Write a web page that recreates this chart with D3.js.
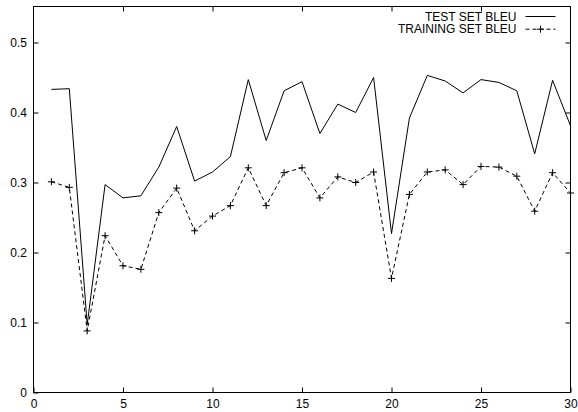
<!DOCTYPE html>
<html>
<head>
<meta charset="utf-8">
<script src="https://cdn.jsdelivr.net/npm/d3@7"></script>
<style>
  body { margin: 0; background: #fff; }
  text { font-family: "Liberation Sans", Arial, Helvetica, sans-serif; font-size: 12px; fill: #000; }
</style>
</head>
<body>
<svg id="chart" width="578" height="412"></svg>
<script>
// iteration numbers
var iterations = d3.range(1, 31);

// test set BLEU (solid line)
var testBleu = [0.433, 0.434, 0.097, 0.297, 0.278, 0.281, 0.322, 0.380, 0.302, 0.315,
                0.337, 0.447, 0.360, 0.431, 0.444, 0.370, 0.412, 0.400, 0.450, 0.227,
                0.392, 0.453, 0.445, 0.428, 0.447, 0.443, 0.431, 0.341, 0.446, 0.381];

// training set BLEU (dashed line with + points)
var trainBleu = [0.301, 0.293, 0.088, 0.224, 0.181, 0.176, 0.257, 0.292, 0.231, 0.252,
                 0.267, 0.321, 0.267, 0.314, 0.321, 0.278, 0.308, 0.300, 0.315, 0.163,
                 0.283, 0.315, 0.318, 0.297, 0.323, 0.322, 0.309, 0.259, 0.314, 0.285];

var xTicks = [0, 5, 10, 15, 20, 25, 30],
    yTicks = [0, 0.1, 0.2, 0.3, 0.4, 0.5];

var legendNames = ["TEST SET BLEU", "TRAINING SET BLEU"];

var svg = d3.select("#chart"),
    mLeft = 33.5, mRight = 570.5, mTop = 6.5, mBottom = 392.5;

var x = d3.scaleLinear().domain([0, 30]).range([mLeft, mRight]),
    y = d3.scaleLinear().domain([0, 0.5]).range([mBottom, mBottom - 350]);

var tickLen = 5;

// frame
svg.append("rect")
    .attr("x", mLeft).attr("y", mTop)
    .attr("width", mRight - mLeft).attr("height", mBottom - mTop)
    .attr("fill", "none").attr("stroke", "#000").attr("stroke-width", 1);

// axes, gnuplot style (ticks inside, mirrored)
svg.append("g").attr("transform", "translate(0," + mBottom + ")")
    .call(d3.axisBottom(x).tickValues(xTicks).tickSizeInner(-tickLen).tickSizeOuter(0).tickPadding(7).tickFormat(d3.format("d")))
    .call(function(g) { g.select(".domain").remove(); });
svg.append("g").attr("transform", "translate(0," + mTop + ")")
    .call(d3.axisTop(x).tickValues(xTicks.slice(1, -1)).tickSizeInner(-tickLen).tickSizeOuter(0).tickFormat(""))
    .call(function(g) { g.select(".domain").remove(); });
svg.append("g").attr("transform", "translate(" + mLeft + ",0)")
    .call(d3.axisLeft(y).tickValues(yTicks).tickSizeInner(-tickLen).tickSizeOuter(0).tickPadding(6.5).tickFormat(function(d) { return d === 0 ? "0" : d3.format(".1f")(d); }))
    .call(function(g) { g.select(".domain").remove(); });
svg.append("g").attr("transform", "translate(" + mRight + ",0)")
    .call(d3.axisRight(y).tickValues(yTicks.slice(1)).tickSizeInner(-tickLen).tickSizeOuter(0).tickFormat(""))
    .call(function(g) { g.select(".domain").remove(); });

svg.selectAll(".tick line").attr("stroke", "#000");
svg.selectAll(".tick text").style("font-size", "12px").style("font-family", "Liberation Sans, Arial, sans-serif").attr("fill", "#000");

var line = d3.line()
    .x(function(d, i) { return x(iterations[i]); })
    .y(function(d) { return y(d); });

svg.append("path")
    .datum(testBleu)
    .attr("d", line)
    .attr("fill", "none").attr("stroke", "#000").attr("stroke-width", 1);

svg.append("path")
    .datum(trainBleu)
    .attr("d", line)
    .attr("fill", "none").attr("stroke", "#000").attr("stroke-width", 1)
    .attr("stroke-dasharray", "4,3");

var plus = function(cx, cy, s) {
  return "M" + (cx - s) + "," + cy + "H" + (cx + s) + "M" + cx + "," + (cy - s) + "V" + (cy + s);
};

svg.append("g").selectAll("path")
    .data(trainBleu)
  .enter().append("path")
    .attr("d", function(d, i) { return plus(x(iterations[i]), y(d), 3.5); })
    .attr("stroke", "#000").attr("stroke-width", 1);

// legend
var legend = svg.append("g");
legendNames.forEach(function(name, i) {
  var ly = 16.5 + i * 12.7;
  legend.append("text")
      .attr("x", 516.5).attr("y", ly).attr("dy", "0.35em")
      .attr("text-anchor", "end")
      .text(name);
  legend.append("line")
      .attr("x1", 525.5).attr("x2", 555.5)
      .attr("y1", ly).attr("y2", ly)
      .attr("stroke", "#000").attr("stroke-width", 1)
      .attr("stroke-dasharray", i === 1 ? "4,3" : null);
  if (i === 1) {
    legend.append("path")
        .attr("d", plus(540.5, ly, 3.5))
        .attr("stroke", "#000").attr("stroke-width", 1);
  }
});
</script>
</body>
</html>
